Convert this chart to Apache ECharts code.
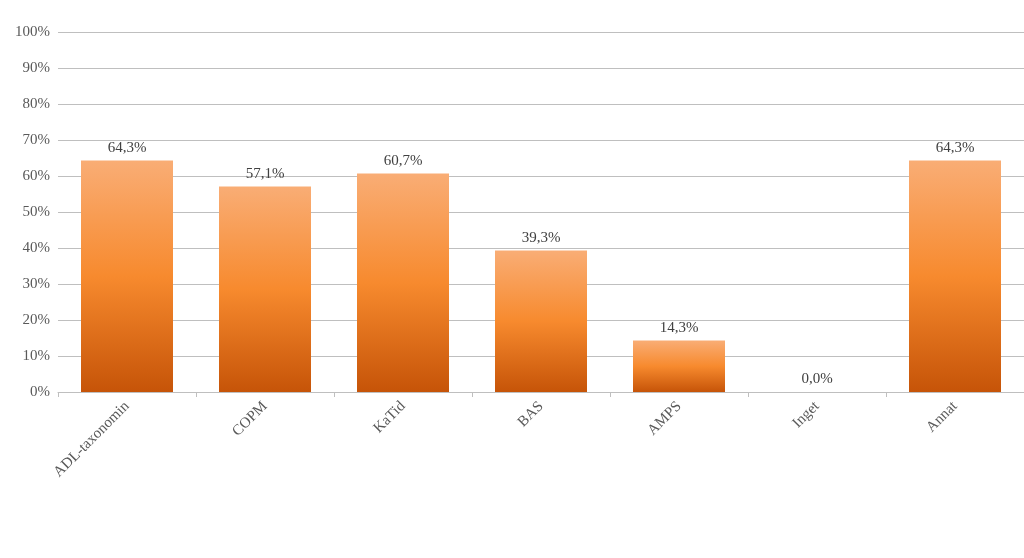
<!DOCTYPE html>
<html><head><meta charset="utf-8">
<script src="https://cdn.jsdelivr.net/npm/echarts@6/dist/echarts.min.js"></script>
<style>html,body{margin:0;padding:0;background:#fff}#c{width:1024px;height:558px}</style>
</head><body><div id="c"></div>
<script>
const categories = ['ADL-taxonomin','COPM','KaTid','BAS','AMPS','Inget','Annat'];
const values = [64.3, 57.1, 60.7, 39.3, 14.3, 0.0, 64.3];
const chart = echarts.init(document.getElementById('c'));
const font = '"Liberation Serif", "Times New Roman", serif';
chart.setOption({
  animation:false,
  grid:{left:58,right:0,top:32,bottom:166},
  xAxis:{type:'category',data:categories,
    axisLine:{lineStyle:{color:'#bfbfbf'}},
    axisTick:{show:true,alignWithLabel:false,lineStyle:{color:'#bfbfbf'},length:5},
    axisLabel:{rotate:45,color:'#595959',fontFamily:font,fontSize:15,margin:12,interval:0}},
  yAxis:{type:'value',min:0,max:100,interval:10,
    axisLabel:{formatter:'{value}%',color:'#595959',fontFamily:font,fontSize:15},
    axisLine:{show:false},axisTick:{show:false},
    splitLine:{lineStyle:{color:'#bfbfbf'}}},
  series:[{type:'bar',data:values,barWidth:92,
    itemStyle:{color:new echarts.graphic.LinearGradient(0,0,0,1,[
      {offset:0,color:'#F9AD75'},{offset:0.5,color:'#F78A2E'},{offset:1,color:'#C65408'}])},
    label:{show:true,position:'top',color:'#404040',fontFamily:font,fontSize:15,
      formatter:p=>p.value.toFixed(1).replace('.',',')+'%'}}]
});
</script></body></html>
